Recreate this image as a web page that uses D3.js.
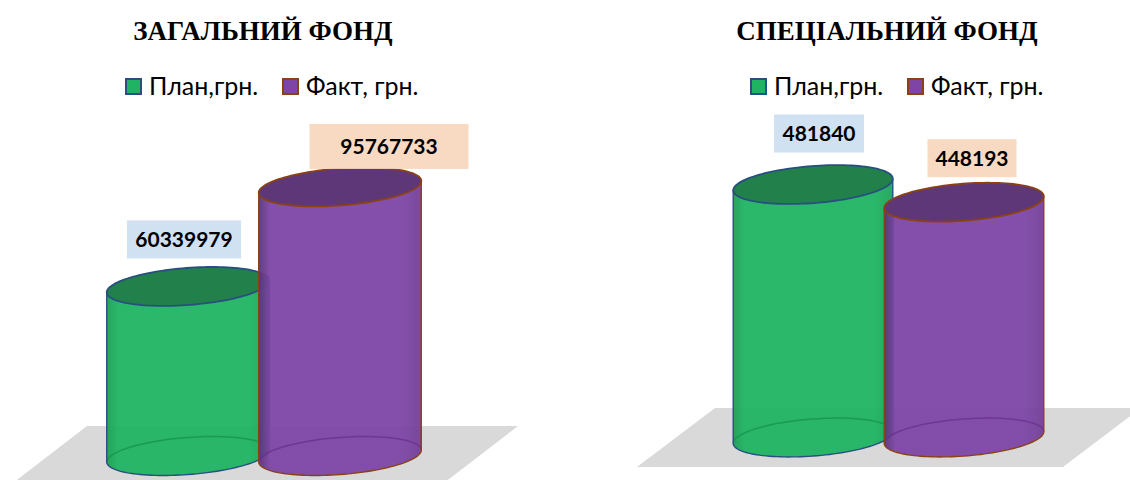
<!DOCTYPE html>
<html>
<head>
<meta charset="utf-8">
<script src="https://cdn.jsdelivr.net/npm/d3@7"></script>
<style>
  html, body { margin: 0; padding: 0; background: #ffffff; }
  svg { display: block; }
</style>
</head>
<body>
<svg id="chart" width="1130" height="480"></svg>
<script>
// ---------------- DATA ----------------
const panelTitles = ["ЗАГАЛЬНИЙ ФОНД", "СПЕЦІАЛЬНИЙ ФОНД"];
const seriesNames = ["План,грн.", "Факт, грн."];
const generalFund = [60339979, 95767733];   // План, Факт
const specialFund = [481840, 448193];       // План, Факт

// ---------------- STYLE / LAYOUT ----------------
const colors = [
  { body: "#1fb462", top: "#22804a", stroke: "#284f80", back: "#17944f", box: "#d0e1f2" },
  { body: "#7d46a6", top: "#5e3779", stroke: "#8a4214", back: "#6a2f90", box: "#f8d9c2" }
];

const panels = [
  {
    title: panelTitles[0], values: generalFund,
    titleX: 263, titleY: 40, legendX: 125, legendY: 78,
    xRange: [188, 340], yBase: 456, yTop: 175, yMax: 100000000,
    halfW: 81.5, b: 18.5, tilt: -4.4,
    floor: [[87, 426], [518, 426], [440, 486], [9, 486]],
    labels: [ { dx: -4, gap: 28, w: 114, h: 38 }, { dx: 49, gap: 18, w: 159, h: 45 } ]
  },
  {
    title: panelTitles[1], values: specialFund,
    titleX: 887, titleY: 40, legendX: 750, legendY: 78,
    xRange: [813, 964], yBase: 437.5, yTop: 175, yMax: 500000,
    halfW: 80, b: 18.5, tilt: -4.4,
    floor: [[715, 408], [1141, 408], [1063, 467], [637, 467]],
    labels: [ { dx: 6, gap: 32, w: 90, h: 38 }, { dx: 8, gap: 25, w: 89, h: 38 } ]
  }
];

const svg = d3.select("#chart");
const defs = svg.append("defs");

// horizontal shading gradients for bodies
colors.forEach((c, i) => {
  const g = defs.append("linearGradient").attr("id", "body" + i)
    .attr("x1", "0%").attr("x2", "100%").attr("y1", "0%").attr("y2", "0%");
  const dark = d3.color(c.body).darker(i === 1 ? 0.9 : 0.35);
  const dark2 = d3.color(c.body).darker(0.25);
  g.append("stop").attr("offset", "0%").attr("stop-color", dark);
  g.append("stop").attr("offset", "7%").attr("stop-color", c.body);
  g.append("stop").attr("offset", "88%").attr("stop-color", c.body);
  g.append("stop").attr("offset", "100%").attr("stop-color", dark2);
});

function ellPoint(cx, cy, a, b, th, t) {
  return [cx + a * Math.cos(t) * Math.cos(th) - b * Math.sin(t) * Math.sin(th),
          cy + a * Math.cos(t) * Math.sin(th) + b * Math.sin(t) * Math.cos(th)];
}
function arcPts(cx, cy, a, b, th, t0, t1, n) {
  const pts = [];
  for (let k = 0; k <= n; k++) pts.push(ellPoint(cx, cy, a, b, th, t0 + (t1 - t0) * k / n));
  return pts;
}
const line = d3.line();

panels.forEach((p) => {
  const g = svg.append("g");

  // floor
  g.append("path")
    .attr("d", line(p.floor) + "Z")
    .attr("fill", "#d9d9d9");

  // title
  g.append("text")
    .attr("x", p.titleX).attr("y", p.titleY)
    .attr("text-anchor", "middle")
    .attr("font-family", "'Liberation Serif', 'Times New Roman', serif")
    .attr("font-weight", "bold")
    .attr("font-size", 27)
    .attr("fill", "#000")
    .text(p.title);

  // legend
  const leg = g.append("g").attr("transform", `translate(${p.legendX},${p.legendY})`);
  seriesNames.forEach((name, i) => {
    const it = leg.append("g").attr("transform", `translate(${i * 157},0)`);
    it.append("rect").attr("x", 1).attr("y", 1).attr("width", 15).attr("height", 15)
      .attr("fill", colors[i].body).attr("stroke", colors[i].stroke).attr("stroke-width", 2);
    it.append("text").attr("x", 24).attr("y", 17)
      .attr("font-family", "Lato, 'Noto Sans', sans-serif")
      .attr("font-size", 25)
      .attr("fill", "#000")
      .text(name);
  });

  // scales
  const x = d3.scalePoint().domain(seriesNames).range(p.xRange);
  const y = d3.scaleLinear().domain([0, p.yMax]).range([p.yBase, p.yTop]);

  const th = p.tilt * Math.PI / 180;
  const a = p.halfW, b = p.b;
  const tR = Math.atan(-b * Math.tan(th) / a);
  const tL = tR + Math.PI;

  seriesNames.forEach((name, i) => {
    const v = p.values[i];
    const cx = x(name);
    const cyB = y(0), cyT = y(v);
    const c = colors[i];
    const cg = g.append("g");

    // body hull
    const topBack = arcPts(cx, cyT, a, b, th, tL, tR + 2 * Math.PI, 60);
    const botFront = arcPts(cx, cyB, a, b, th, tR, tL, 60);
    cg.append("path")
      .attr("d", line(topBack.concat(botFront)) + "Z")
      .attr("fill", `url(#body${i})`)
      .attr("fill-opacity", 0.95);

    // back arc of bottom (seen through)
    cg.append("path")
      .attr("d", line(arcPts(cx, cyB, a, b, th, tL, tR + 2 * Math.PI, 60)))
      .attr("fill", "none").attr("stroke", c.back).attr("stroke-width", 1.5).attr("stroke-opacity", 0.8);

    // silhouette outline: sides + bottom front arc
    const sideL = [ellPoint(cx, cyT, a, b, th, tL), ellPoint(cx, cyB, a, b, th, tL)];
    const sideR = [ellPoint(cx, cyT, a, b, th, tR), ellPoint(cx, cyB, a, b, th, tR)];
    cg.append("path")
      .attr("d", line([sideR[0], sideR[1]].concat(botFront).concat([sideL[0]])))
      .attr("fill", "none").attr("stroke", c.stroke).attr("stroke-width", 1.4)
      .attr("stroke-linejoin", "round");

    // top ellipse
    cg.append("path")
      .attr("d", line(arcPts(cx, cyT, a, b, th, 0, 2 * Math.PI, 120)) + "Z")
      .attr("fill", c.top)
      .attr("stroke", c.stroke).attr("stroke-width", 1.8);
  });

  // data labels (drawn after cylinders)
  seriesNames.forEach((name, i) => {
    const v = p.values[i];
    const L = p.labels[i];
    const cx = x(name) + L.dx;
    const bottom = y(v) - L.gap;
    const lg = g.append("g");
    lg.append("rect")
      .attr("x", cx - L.w / 2).attr("y", bottom - L.h)
      .attr("width", L.w).attr("height", L.h)
      .attr("fill", colors[i].box);
    lg.append("text")
      .attr("x", cx).attr("y", bottom - L.h / 2)
      .attr("dy", "0.36em")
      .attr("text-anchor", "middle")
      .attr("font-family", "Lato, 'Noto Sans', sans-serif")
      .attr("font-weight", "bold")
      .attr("font-size", 21)
      .attr("fill", "#000")
      .text(d3.format("d")(v));
  });
});
</script>
</body>
</html>
